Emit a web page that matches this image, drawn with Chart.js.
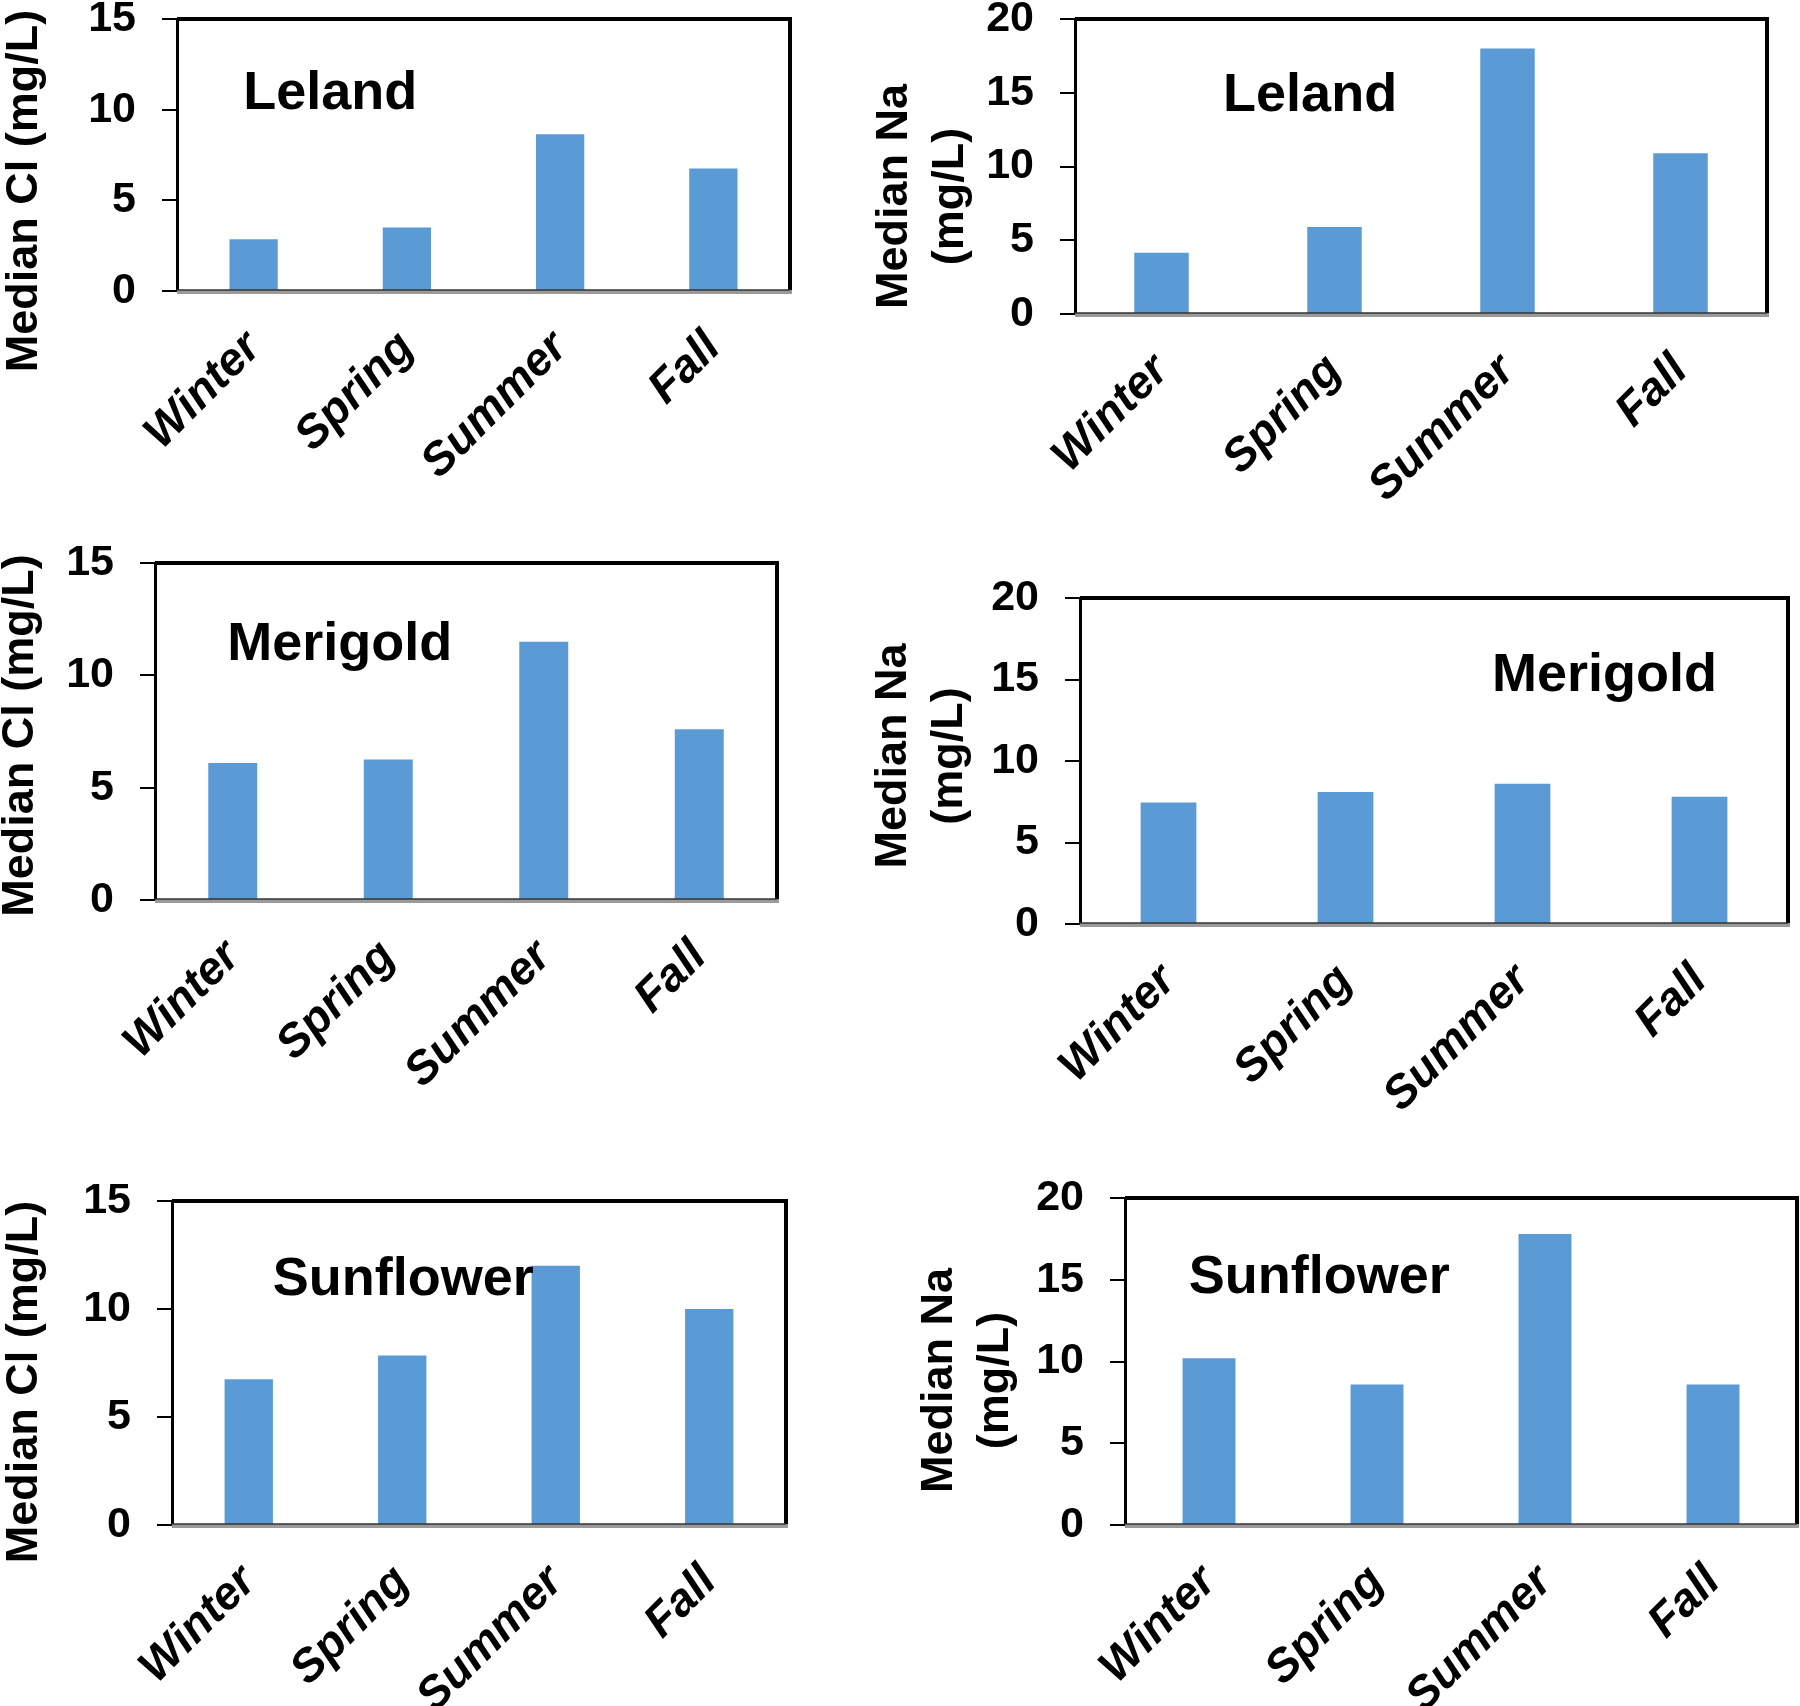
<!DOCTYPE html>
<html>
<head>
<meta charset="utf-8">
<script src="https://cdn.jsdelivr.net/npm/chart.js@4.4.1/dist/chart.umd.min.js"></script>
<style>
  body { margin: 0; background: #fff; width: 1800px; height: 1706px; position: relative; overflow: hidden; }
  .cell { position: absolute; }
</style>
</head>
<body>
<script>
// --- DATA --- //
const seasons = ['Winter', 'Spring', 'Summer', 'Fall']
const clTicks = [0, 5, 10, 15]
const naTicks = [0, 5, 10, 15, 20]

const clLeland = [2.85, 3.5, 8.65, 6.75]
const naLeland = [4.15, 5.9, 18.0, 10.9]
const clMerigold = [6.1, 6.25, 11.5, 7.6]
const naMerigold = [7.45, 8.1, 8.6, 7.8]
const clSunflower = [6.75, 7.85, 12.0, 10.0]
const naSunflower = [10.2, 8.6, 17.8, 8.6]

// --- STYLE --- //
const FONT = "'Liberation Sans', Arial, Helvetica, sans-serif"
const BAR_BLUE = '#5B9BD5'
const Y_AXIS_W = 110

Chart.defaults.font.family = FONT
Chart.defaults.color = '#000'
Chart.defaults.animation = false

// frame, station name and y title drawn around the chart area
const panelDecor = {
  id: 'panelDecor',
  afterDraw: (chart, args, opts) => {
    const ctx = chart.ctx
    const a = chart.chartArea
    ctx.save()

    // top + right border
    ctx.strokeStyle = '#000'
    ctx.lineWidth = 4
    ctx.beginPath()
    ctx.moveTo(a.left, a.top)
    ctx.lineTo(a.right, a.top)
    ctx.lineTo(a.right, a.bottom)
    ctx.stroke()

    // grey base line with a dark edge
    ctx.strokeStyle = '#9a9a9a'
    ctx.lineWidth = 4
    ctx.beginPath()
    ctx.moveTo(a.left, a.bottom + 1)
    ctx.lineTo(a.right + 2, a.bottom + 1)
    ctx.stroke()
    ctx.strokeStyle = '#333'
    ctx.lineWidth = 1.5
    ctx.beginPath()
    ctx.moveTo(a.left, a.bottom - 1)
    ctx.lineTo(a.right, a.bottom - 1)
    ctx.stroke()

    // station name
    ctx.fillStyle = '#000'
    ctx.font = `bold 54px ${FONT}`
    ctx.textAlign = 'left'
    ctx.textBaseline = 'alphabetic'
    ctx.fillText(opts.name, a.left + opts.nameX * a.width, a.top + opts.nameY * a.height)

    // rotated y title (one or two lines)
    ctx.font = `bold 45px ${FONT}`
    ctx.textAlign = 'center'
    ctx.textBaseline = 'middle'
    const cy = (a.top + a.bottom) / 2 + opts.titleDy
    opts.title.forEach((line, i) => {
      ctx.save()
      ctx.translate(a.left + opts.titleX + i * 56, cy)
      ctx.rotate(-Math.PI / 2)
      ctx.fillText(line, 0, 0)
      ctx.restore()
    })
    ctx.restore()
  }
}

// cell = [x, y, w, h] of the canvas, plot = [left, top, right, bottom] of the chart area
const panels = [
  { values: clLeland, ticks: clTicks, name: 'Leland', title: ['Median Cl (mg/L)'],
    cell: [0, 0, 860, 540], plot: [177, 19, 790, 291], nameX: 0.108, nameY: 0.331, titleX: -152, titleDy: 36 },
  { values: naLeland, ticks: naTicks, name: 'Leland', title: ['Median Na', '(mg/L)'],
    cell: [860, 0, 940, 540], plot: [1075, 19, 1767, 314], nameX: 0.214, nameY: 0.312, titleX: -180, titleDy: 30 },
  { values: clMerigold, ticks: clTicks, name: 'Merigold', title: ['Median Cl (mg/L)'],
    cell: [0, 540, 860, 630], plot: [155, 563, 777, 900], nameX: 0.116, nameY: 0.288, titleX: -134, titleDy: 4 },
  { values: naMerigold, ticks: naTicks, name: 'Merigold', title: ['Median Na', '(mg/L)'],
    cell: [860, 540, 940, 630], plot: [1080, 598, 1788, 924], nameX: 0.582, nameY: 0.285, titleX: -186, titleDy: -5 },
  { values: clSunflower, ticks: clTicks, name: 'Sunflower', title: ['Median Cl (mg/L)'],
    cell: [0, 1170, 860, 536], plot: [172, 1201, 786, 1525], nameX: 0.164, nameY: 0.29, titleX: -147, titleDy: 19 },
  { values: naSunflower, ticks: naTicks, name: 'Sunflower', title: ['Median Na', '(mg/L)'],
    cell: [860, 1170, 940, 536], plot: [1125, 1198, 1797, 1525], nameX: 0.095, nameY: 0.29, titleX: -185, titleDy: 19 }
]

function makePanel (p) {
  const [cx, cy, cw, ch] = p.cell
  const [pl, pt, pr, pb] = p.plot

  const div = document.createElement('div')
  div.className = 'cell'
  div.style.cssText = `left:${cx}px;top:${cy}px;width:${cw}px;height:${ch}px`
  const canvas = document.createElement('canvas')
  canvas.width = cw
  canvas.height = ch
  canvas.style.width = cw + 'px'
  canvas.style.height = ch + 'px'
  div.appendChild(canvas)
  document.body.appendChild(div)

  return new Chart(canvas, {
    type: 'bar',
    data: {
      labels: seasons,
      datasets: [{
        data: p.values,
        backgroundColor: BAR_BLUE,
        categoryPercentage: 1,
        barPercentage: 0.315
      }]
    },
    options: {
      responsive: false,
      devicePixelRatio: 1,
      layout: { padding: { left: pl - cx - Y_AXIS_W, top: pt - cy, right: cx + cw - pr, bottom: 0 } },
      plugins: {
        legend: { display: false },
        tooltip: { enabled: false },
        panelDecor: { name: p.name, nameX: p.nameX, nameY: p.nameY, title: p.title, titleX: p.titleX, titleDy: p.titleDy }
      },
      scales: {
        x: {
          grid: { display: false, drawTicks: false },
          border: { display: false },
          ticks: {
            font: { size: 46, weight: 'bold', style: 'italic' },
            color: '#000',
            maxRotation: 45,
            minRotation: 45,
            autoSkip: false,
            padding: 30
          },
          afterFit: s => {
            s.height = cy + ch - pb
            s.paddingLeft = 0
            s.paddingRight = 0
          }
        },
        y: {
          min: 0,
          max: p.ticks[p.ticks.length - 1],
          ticks: {
            stepSize: p.ticks[1] - p.ticks[0],
            font: { size: 43, weight: 'bold' },
            color: '#000',
            padding: 26
          },
          grid: { drawOnChartArea: false, drawTicks: true, tickLength: 15, color: '#000', lineWidth: 2 },
          border: { display: true, color: '#000', width: 3 },
          afterFit: s => {
            s.width = Y_AXIS_W
            s.paddingTop = 0
            s.paddingBottom = 0
          }
        }
      }
    },
    plugins: [panelDecor]
  })
}

panels.forEach(makePanel)
</script>
</body>
</html>
